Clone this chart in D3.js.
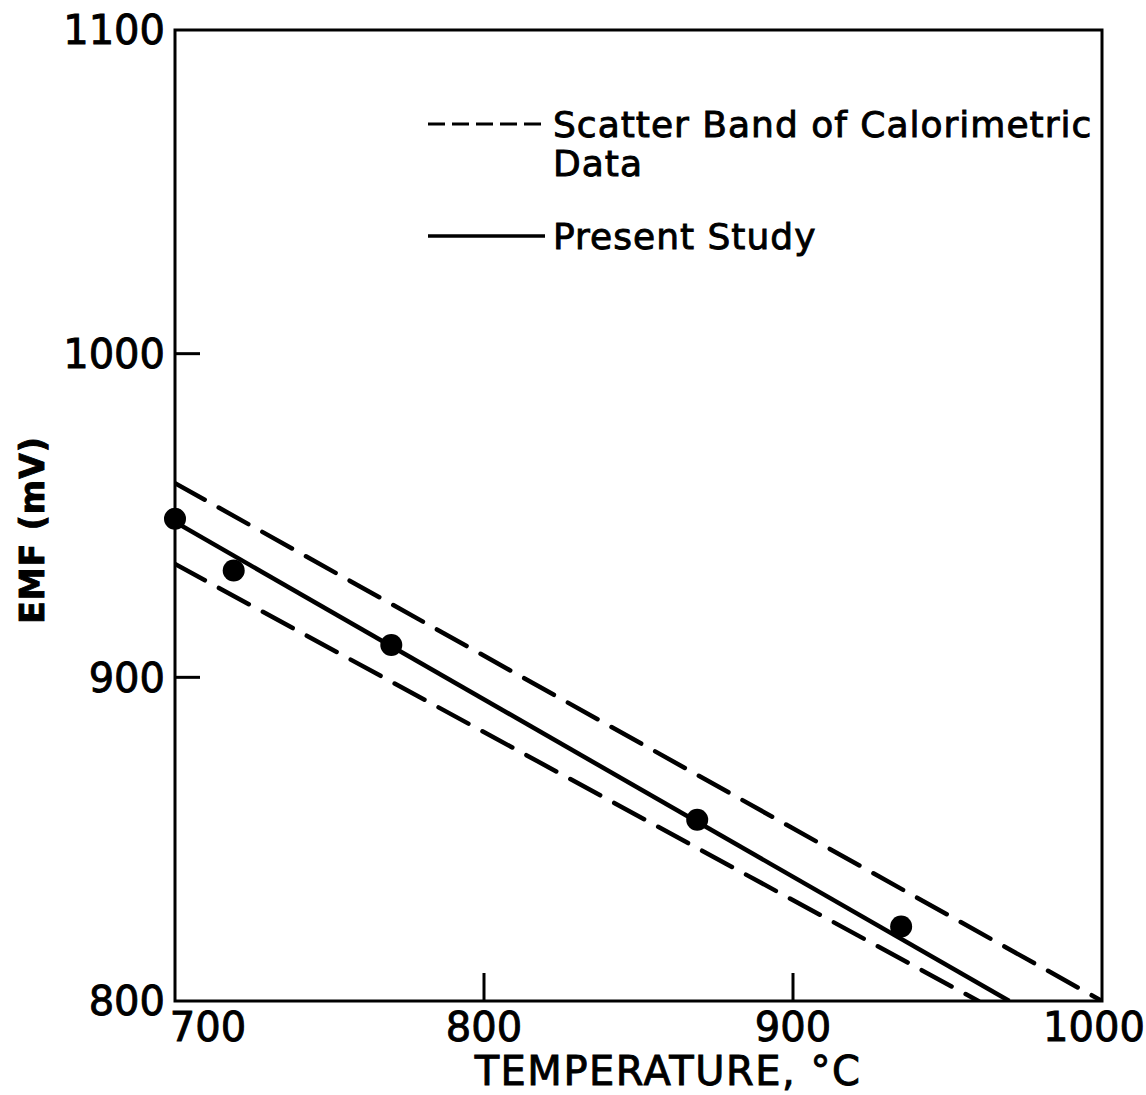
<!DOCTYPE html>
<html>
<head>
<meta charset="utf-8">
<script src="https://cdn.jsdelivr.net/npm/d3@7"></script>
<style>
  body { margin: 0; background: #fff; }
  svg text { font-family: "DejaVu Sans", sans-serif; fill: #000; stroke: #000; stroke-width: 0.9px; }
</style>
</head>
<body>
<div id="chart"></div>
<script>
// data
var xTicks = [700, 800, 900, 1000];
var yTicks = [800, 900, 1000, 1100];
var measuredT = [700, 719, 770, 869, 935];
var measuredEmf = [949, 933, 910, 856, 823];
var studyLine = [{t: 700, v: 948}, {t: 970, v: 800}];
var upperBand = [{t: 700, v: 960}, {t: 1000, v: 800}];
var lowerBand = [{t: 700, v: 935}, {t: 960, v: 800}];

var margin = {top: 30, right: 44, bottom: 94, left: 175},
    width = 1146 - margin.left - margin.right,
    height = 1095 - margin.top - margin.bottom;

var xScale = d3.scaleLinear().domain([700, 1000]).range([0, width]),
    yScale = d3.scaleLinear().domain([800, 1100]).range([height, 0]);

var svg = d3.select('#chart').append('svg')
    .attr('width', 1146)
    .attr('height', 1095);

var g = svg.append('g')
    .attr('transform', 'translate(' + margin.left + ',' + margin.top + ')');

var line = d3.line()
    .x(function(d) { return xScale(d.t); })
    .y(function(d) { return yScale(d.v); });

// frame
g.append('rect')
    .attr('width', width)
    .attr('height', height)
    .attr('fill', 'none')
    .attr('stroke', '#000')
    .attr('stroke-width', 3);

// y ticks point inward
g.selectAll('.ytick')
    .data(yTicks.filter(function(d) { return d > 800 && d < 1100; }))
    .enter().append('line')
    .attr('x1', 0).attr('x2', 25)
    .attr('y1', function(d) { return yScale(d); })
    .attr('y2', function(d) { return yScale(d); })
    .attr('stroke', '#000').attr('stroke-width', 3);

g.selectAll('.ylab')
    .data(yTicks)
    .enter().append('text')
    .attr('x', -10)
    .attr('y', function(d) { return yScale(d); })
    .attr('dy', '0.36em')
    .attr('text-anchor', 'end')
    .style('font-size', '40px')
    .text(function(d) { return d; });

// x ticks point inward
g.selectAll('.xtick')
    .data(xTicks.filter(function(d) { return d > 700 && d < 1000; }))
    .enter().append('line')
    .attr('x1', function(d) { return xScale(d); })
    .attr('x2', function(d) { return xScale(d); })
    .attr('y1', height).attr('y2', height - 28)
    .attr('stroke', '#000').attr('stroke-width', 3);

g.selectAll('.xlab')
    .data(xTicks)
    .enter().append('text')
    .attr('x', function(d) { return d == 700 ? xScale(d) + 33 : xScale(d) - (d == 1000 ? 8 : 0); })
    .attr('y', height + 40)
    .attr('text-anchor', 'middle')
    .style('font-size', '40px')
    .text(function(d) { return d; });

// axis titles
g.append('text')
    .attr('x', 493)
    .attr('y', height + 84)
    .attr('text-anchor', 'middle')
    .style('font-size', '40px')
    .style('letter-spacing', '1.5px')
    .text('TEMPERATURE, °C');

svg.append('text')
    .attr('transform', 'translate(44,530) rotate(-90)')
    .attr('text-anchor', 'middle')
    .style('font-size', '33px')
    .style('font-weight', 'bold')
    .style('letter-spacing', '1px')
    .text('EMF (mV)');

// clip for data lines
svg.append('clipPath').attr('id', 'clip')
    .append('rect').attr('width', width).attr('height', height);

var lines = g.append('g').attr('clip-path', 'url(#clip)');

[upperBand, lowerBand].forEach(function(d) {
    lines.append('path')
        .attr('d', line(d))
        .attr('fill', 'none')
        .attr('stroke', '#000')
        .attr('stroke-width', 4.5)
        .attr('stroke-linecap', 'round')
        .attr('stroke-dasharray', '34,16');
});

lines.append('path')
    .attr('d', line(studyLine))
    .attr('fill', 'none')
    .attr('stroke', '#000')
    .attr('stroke-width', 4.5);

g.selectAll('.dot')
    .data(measuredT)
    .enter().append('circle')
    .attr('cx', function(d) { return xScale(d); })
    .attr('cy', function(d, i) { return yScale(measuredEmf[i]); })
    .attr('r', 11)
    .attr('fill', '#000');

// legend
var leg = svg.append('g');
leg.append('line')
    .attr('x1', 428).attr('x2', 545).attr('y1', 124).attr('y2', 124)
    .attr('stroke', '#000').attr('stroke-width', 3)
    .attr('stroke-dasharray', '17,7');
leg.append('text').attr('x', 553).attr('y', 137)
    .style('font-size', '36px').style('letter-spacing', '1px')
    .text('Scatter Band of Calorimetric');
leg.append('text').attr('x', 553).attr('y', 176)
    .style('font-size', '36px').style('letter-spacing', '1px')
    .text('Data');
leg.append('line')
    .attr('x1', 428).attr('x2', 545).attr('y1', 236).attr('y2', 236)
    .attr('stroke', '#000').attr('stroke-width', 3.5);
leg.append('text').attr('x', 553).attr('y', 249)
    .style('font-size', '36px').style('letter-spacing', '1px')
    .text('Present Study');
</script>
</body>
</html>
